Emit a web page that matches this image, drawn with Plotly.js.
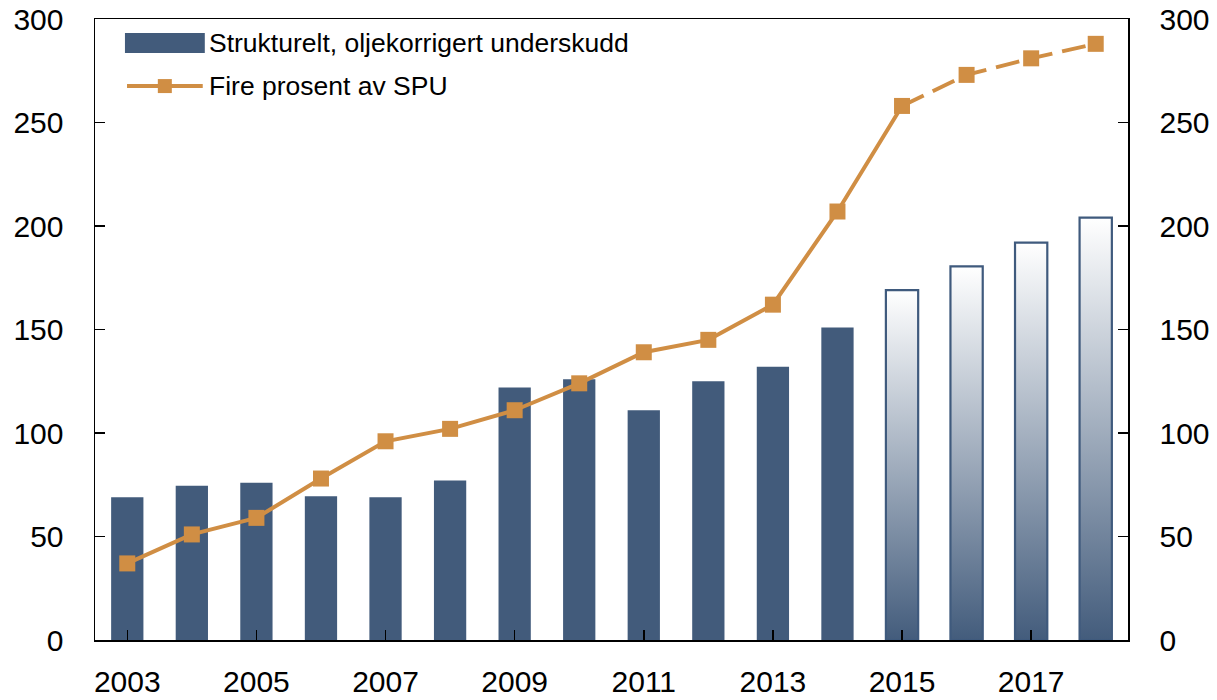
<!DOCTYPE html>
<html>
<head>
<meta charset="utf-8">
<script src="https://cdn.plot.ly/plotly-3.0.1.min.js"></script>
<style>
html,body{margin:0;padding:0;background:#fff;}
#chart{width:1217px;height:700px;}
</style>
</head>
<body>
<div id="chart"></div>
<script>
// ---- data ----
const years = [2003,2004,2005,2006,2007,2008,2009,2010,2011,2012,2013,2014,2015,2016,2017,2018];
const deficit = [69,74.5,76,69.5,69,77,122,126,111,125,132,151,169,180.5,192,204];
const fourPercentSPU = [37,51,59,78,96,102,111,124,139,145,162,207,258,273,281,288];
const projectionStart = 2015;
const tickYears = [2003,2005,2007,2009,2011,2013,2015,2017];
const seriesNames = ["Strukturelt, oljekorrigert underskudd", "Fire prosent av SPU"];

// ---- styles ----
const barColor = '#425b7b';
const lineColor = '#d08e44';
const barWidth = 0.5;
const FONT = 'Liberation Sans, Arial, Helvetica, sans-serif';

const traces = [];

const actIdx = years.map((y,i)=>i).filter(i=>years[i] < projectionStart);
const projIdx = years.map((y,i)=>i).filter(i=>years[i] >= projectionStart);

// actual bars
traces.push({
  type:'bar',
  x: actIdx.map(i=>years[i]),
  y: actIdx.map(i=>deficit[i]),
  width: barWidth,
  marker:{color:barColor, line:{width:0}},
  name: seriesNames[0],
  showlegend:false,
  hoverinfo:'x+y'
});

// projected bars with vertical gradient (filled scatter rectangles derived from data)
projIdx.forEach(i=>{
  const x = years[i], v = deficit[i], h = barWidth/2;
  traces.push({
    type:'scatter',
    mode:'lines',
    x:[x-h, x+h, x+h, x-h, x-h],
    y:[0, 0, v, v, 0],
    fill:'toself',
    fillgradient:{type:'vertical', start:0, stop:v,
      colorscale:[[0,'#435c7c'],[1,'#ffffff']]},
    line:{color:'#3f5a7d', width:2.2},
    showlegend:false,
    hoverinfo:'skip'
  });
});

// line: solid part and dashed projection
const solidIdx = years.map((y,i)=>i).filter(i=>years[i] <= projectionStart);
const dashIdx = years.map((y,i)=>i).filter(i=>years[i] >= projectionStart);
traces.push({
  type:'scatter', mode:'lines',
  x: solidIdx.map(i=>years[i]), y: solidIdx.map(i=>fourPercentSPU[i]),
  line:{color:lineColor, width:4},
  showlegend:false, hoverinfo:'skip'
});
traces.push({
  type:'scatter', mode:'lines',
  x: dashIdx.map(i=>years[i]), y: dashIdx.map(i=>fourPercentSPU[i]),
  line:{color:lineColor, width:4, dash:'24px,10px'},
  showlegend:false, hoverinfo:'skip'
});
traces.push({
  type:'scatter', mode:'markers',
  x: years, y: fourPercentSPU,
  marker:{symbol:'square', size:16, color:lineColor, line:{width:0}},
  name: seriesNames[1],
  showlegend:false
});

// custom legend (shapes + annotations in paper coordinates)
const shapes = [
  {type:'rect', xref:'paper', yref:'paper', x0:0.029, x1:0.1063, y0:0.9453, y1:0.9775,
   fillcolor:barColor, line:{width:0}},
  {type:'line', xref:'paper', yref:'paper', x0:0.031, x1:0.1043, y0:0.892, y1:0.892,
   line:{color:lineColor, width:4}},
  {type:'rect', xref:'paper', yref:'paper', xsizemode:'pixel', ysizemode:'pixel',
   xanchor:0.0676, yanchor:0.892, x0:-7, x1:7, y0:-7, y1:7,
   fillcolor:lineColor, line:{width:0}}
];
const annotations = [
  {xref:'paper', yref:'paper', x:0.1085, y:0.9614, xanchor:'left', yanchor:'middle',
   text:seriesNames[0], showarrow:false, font:{family:FONT, size:26.5, color:'#000'}},
  {xref:'paper', yref:'paper', x:0.1085, y:0.892, xanchor:'left', yanchor:'middle',
   text:seriesNames[1], showarrow:false, font:{family:FONT, size:26.5, color:'#000'}}
];

const tickFont = {family:FONT, size:30, color:'#000'};
const layout = {
  width:1217, height:700,
  margin:{l:95, r:89, t:19, b:60},
  paper_bgcolor:'#fff', plot_bgcolor:'#fff',
  showlegend:false,
  barmode:'overlay',
  xaxis:{
    range:[2002.5, 2018.5], tickvals:tickYears, ticktext:tickYears.map(String),
    ticks:'inside', ticklen:10, tickwidth:1.5, tickcolor:'#000',
    showline:true, linecolor:'#000', linewidth:1.5, mirror:true,
    showgrid:false, zeroline:false, tickfont:tickFont, ticklabelstandoff:14
  },
  yaxis:{
    range:[0,300], dtick:50, ticks:'inside', ticklen:10, tickwidth:1.5, tickcolor:'#000',
    showline:true, linecolor:'#000', linewidth:1.5,
    showgrid:false, zeroline:false, tickfont:tickFont, ticklabelstandoff:24
  },
  yaxis2:{
    overlaying:'y', side:'right', range:[0,300], dtick:50,
    ticks:'inside', ticklen:10, tickwidth:1.5, tickcolor:'#000',
    showline:true, linecolor:'#000', linewidth:1.5,
    showgrid:false, zeroline:false, tickfont:tickFont, ticklabelstandoff:24
  },
  shapes: shapes,
  annotations: annotations
};

// invisible trace to activate the right axis
traces.push({type:'scatter', x:[years[0]], y:[0], yaxis:'y2', mode:'markers',
  marker:{opacity:0}, showlegend:false, hoverinfo:'skip'});

Plotly.newPlot('chart', traces, layout, {staticPlot:true});
</script>
</body>
</html>
